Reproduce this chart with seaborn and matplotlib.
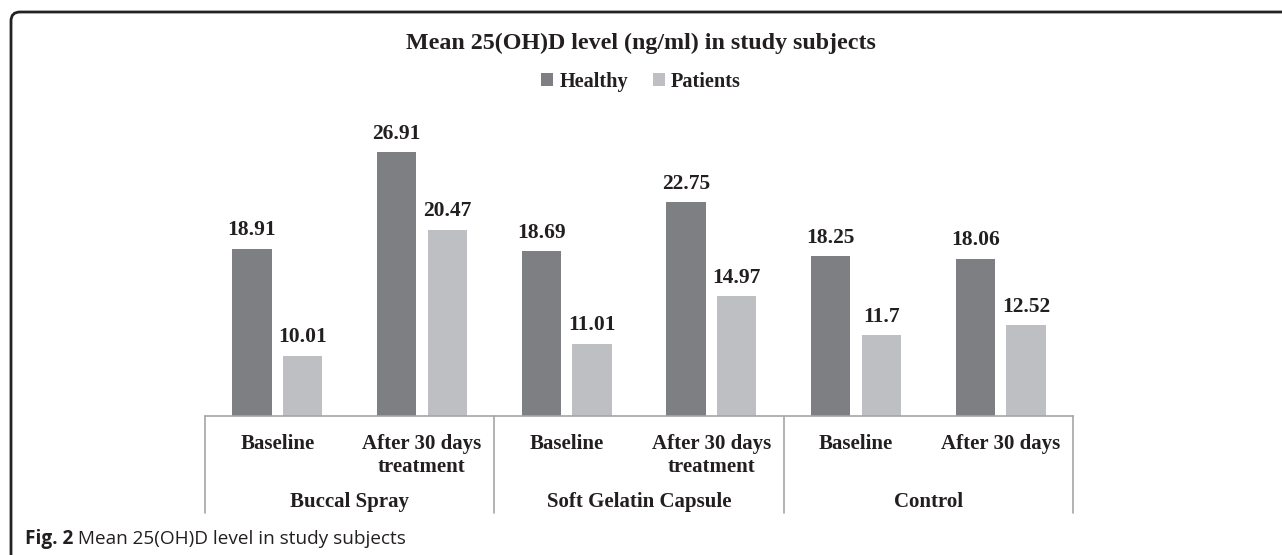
import matplotlib
matplotlib.use("Agg")
import matplotlib.pyplot as plt
import matplotlib.transforms as mtransforms
from matplotlib.patches import FancyBboxPatch
import seaborn as sns
import pandas as pd

# ---- data ----
groups = ["Buccal Spray", "Soft Gelatin Capsule", "Control"]
stage_labels = ["Baseline", "After 30 days\ntreatment",
                "Baseline", "After 30 days\ntreatment",
                "Baseline", "After 30 days"]
stage_group = [0, 0, 1, 1, 2, 2]
healthy = [18.91, 26.91, 18.69, 22.75, 18.25, 18.06]
patients = [10.01, 20.47, 11.01, 14.97, 11.70, 12.52]
series_names = ["Healthy", "Patients"]
colors = ["#7e7f83", "#bebfc3"]
title = "Mean 25(OH)D level (ng/ml) in study subjects"
caption_bold = "Fig. 2"
caption_text = " Mean 25(OH)D level in study subjects"

keys = [f"{groups[g]}|{i}" for i, g in enumerate(stage_group)]
rows = []
for k, h, p in zip(keys, healthy, patients):
    rows.append({"key": k, "subject": series_names[0], "value": h})
    rows.append({"key": k, "subject": series_names[1], "value": p})
df = pd.DataFrame(rows)

sns.set_theme(style="white")
plt.rcParams["font.family"] = ["Liberation Serif", "DejaVu Serif"]
txt_color = "#231f20"

W, H = 1282, 555
fig = plt.figure(figsize=(W / 100, H / 100), dpi=100)
ax = fig.add_axes([205 / W, 139 / H, 868 / W, 301 / H])

sns.barplot(data=df, x="key", y="value", hue="subject", order=keys,
            hue_order=series_names, palette=colors, width=0.7, gap=0.22,
            saturation=1, ax=ax, legend=True, edgecolor="none")

ax.set_ylim(5, 30)
ax.set_xlim(-0.5, len(keys) - 0.5)
ax.set_xlabel("")
ax.set_ylabel("")
ax.set_yticks([])
for s in ["top", "right", "left"]:
    ax.spines[s].set_visible(False)
ax.spines["bottom"].set_color("#a6a6a6")
ax.spines["bottom"].set_linewidth(1.2)

ax.set_xticks(range(len(keys)))
ax.set_xticklabels(stage_labels, fontsize=15, fontweight="bold",
                   color=txt_color, linespacing=1.2)
ax.tick_params(axis="x", length=0, pad=13)

for cont in ax.containers:
    ax.bar_label(cont, fmt="{:g}", padding=6, fontsize=15.5,
                 fontweight="bold", color=txt_color)

# separators of the multi-level axis
trans = mtransforms.blended_transform_factory(ax.transData, ax.transAxes)
for xb in [-0.5, 1.5, 3.5, 5.5]:
    ax.plot([xb, xb], [0, -0.322], transform=trans, color="#a6a6a6",
            lw=1.2, clip_on=False)
for gi, g in enumerate(groups):
    idx = [i for i, sg in enumerate(stage_group) if sg == gi]
    xc = (idx[0] + idx[-1]) / 2
    ax.text(xc, -0.286, g, transform=trans, ha="center", va="center",
            fontsize=15, fontweight="bold", color=txt_color)

# legend
leg = ax.get_legend()
handles, labels = ax.get_legend_handles_labels()
leg.remove()
fig.legend(handles, labels, loc="center", bbox_to_anchor=(0.5, 1 - 82 / H),
           ncol=2, frameon=False, handlelength=0.6, handleheight=0.6,
           handletextpad=0.3, columnspacing=1.2,
           prop={"family": "Liberation Serif", "weight": "bold", "size": 14.6})
for t in fig.legends[0].get_texts():
    t.set_color(txt_color)

fig.text(0.5, 1 - 43 / H, title, ha="center", va="center", fontsize=17.3,
         fontweight="bold", color=txt_color)

# caption
cap1 = fig.text(25 / W, 1 - 539 / H, caption_bold, ha="left", va="center",
                fontsize=13.7, fontweight="bold", family="Open Sans",
                color=txt_color)
fig.canvas.draw()
bb = cap1.get_window_extent()
fig.text(bb.x1 / W, 1 - 539 / H, caption_text, ha="left", va="center",
         fontsize=13.7, family="Open Sans", color=txt_color)

# outer rounded frame (top and left edges visible)
frame = FancyBboxPatch((0.11, -1.0), 20, 5.43 + 1.0,
                       boxstyle="round,pad=0,rounding_size=0.09",
                       transform=fig.dpi_scale_trans, fill=False,
                       lw=2, edgecolor="#222222")
fig.patches.append(frame)

fig.savefig("out.png", dpi=100)
